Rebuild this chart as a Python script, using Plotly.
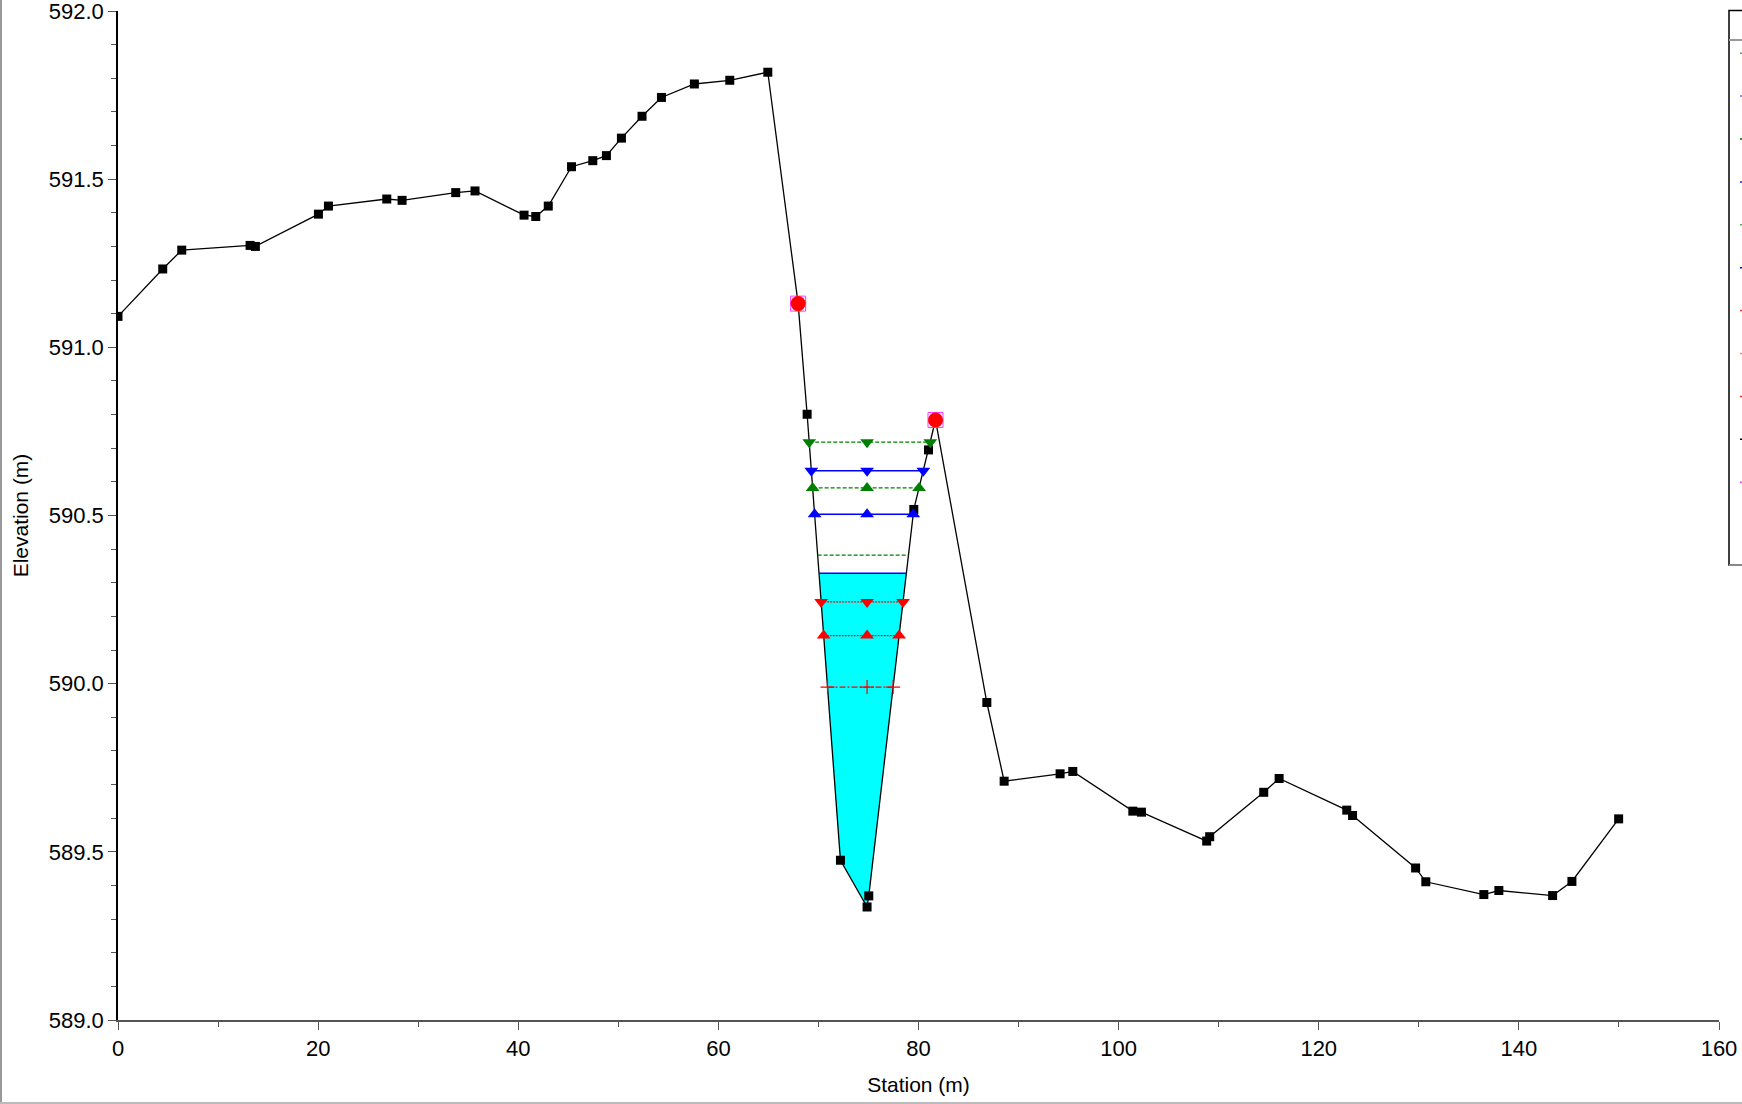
import numpy as np
import plotly.graph_objects as go

# ---------------- data ----------------
station = [0, 4.47, 6.37, 13.2, 13.73, 20.03, 21.03, 26.86, 28.39, 33.75, 35.68,
           40.58, 41.75, 43.0, 45.32, 47.45, 48.81, 50.31, 52.37, 54.31, 57.6,
           61.14, 64.94, 67.97, 68.87, 72.2, 74.86, 75.03, 79.53, 81.0, 81.7,
           86.83, 88.56, 94.15, 95.42, 101.42, 102.28, 108.8, 109.1, 114.5,
           116.04, 122.8, 123.38, 129.68, 130.7, 136.5, 138.0, 143.37, 145.3, 149.97]
elevation = [591.092, 591.233, 591.289, 591.303, 591.300, 591.396, 591.420, 591.441,
             591.437, 591.460, 591.465, 591.393, 591.389, 591.420, 591.537, 591.555,
             591.570, 591.622, 591.687, 591.743, 591.783, 591.794, 591.818, 591.130,
             590.801, 589.475, 589.336, 589.369, 590.518, 590.695, 590.784, 589.944,
             589.710, 589.732, 589.739, 589.621, 589.618, 589.532, 589.545, 589.677,
             589.718, 589.624, 589.608, 589.452, 589.411, 589.373, 589.385, 589.370,
             589.412, 589.598]
bank_stations = [67.97, 81.7]

profile_names = ["EG  PF 3", "WS  PF 3", "EG  PF 2", "WS  PF 2", "EG  PF 1",
                 "WS  PF 1", "Crit  PF 3", "Crit  PF 2", "Crit  PF 1"]
profile_levels = [590.718, 590.633, 590.582, 590.504, 590.382,
                  590.328, 590.243, 590.143, 589.990]
profile_colors = ["#008000", "#0000FF", "#008000", "#0000FF", "#008000",
                  "#0000FF", "#FF0000", "#FF0000", "#FF0000"]
profile_dash = ["4px,2px", "solid", "4px,2px", "solid", "4px,2px",
                "solid", "2px,1px", "2px,1px", "6px,2px,2px,2px"]
profile_symbol = ["triangle-down", "triangle-down", "triangle-up", "triangle-up", None,
                  None, "triangle-down", "triangle-up", "cross-thin"]

x_ticks = [0, 20, 40, 60, 80, 100, 120, 140, 160]
y_ticks = [589.0, 589.5, 590.0, 590.5, 591.0, 591.5, 592.0]

legend_colors = ["#5aa85a", "#6a6aff", "#006400", "#2020ff", "#5aa85a", "#0000ff",
                 "#ff3030", "#ff8080", "#ff2020", "#000000", "#ff40ff"]

# ---------------- helpers ----------------
xs = np.array(station)
ys = np.array(elevation)
i_min = int(np.argmin(ys))


def crossings(z):
    i = i_min
    while ys[i - 1] < z:
        i -= 1
    xl = xs[i - 1] + (z - ys[i - 1]) * (xs[i] - xs[i - 1]) / (ys[i] - ys[i - 1])
    j = i_min
    while ys[j + 1] < z:
        j += 1
    xr = xs[j] + (z - ys[j]) * (xs[j + 1] - xs[j]) / (ys[j + 1] - ys[j])
    return xl, xr, i, j


fig = go.Figure()

# water fill for WS PF 1
z_ws = profile_levels[5]
xl, xr, i, j = crossings(z_ws)
poly_x = [xl] + list(xs[i:j + 1]) + [xr, xl]
poly_y = [z_ws] + list(ys[i:j + 1]) + [z_ws, z_ws]
fig.add_trace(go.Scatter(x=poly_x, y=poly_y, fill="toself", fillcolor="#00FFFF",
                         mode="lines", line=dict(width=0), hoverinfo="skip",
                         showlegend=False))

# ground
fig.add_trace(go.Scatter(x=station, y=elevation, mode="lines+markers", name="Ground",
                         line=dict(color="black", width=1.3),
                         marker=dict(symbol="square", size=9, color="black"),
                         showlegend=False))

# profiles
for name, z, c, d, s in zip(profile_names, profile_levels, profile_colors,
                            profile_dash, profile_symbol):
    a, b, _, _ = crossings(z)
    if s is None:
        px, py, mode, mk = [a, b], [z, z], "lines", None
    else:
        px, py, mode = [a, xs[i_min], b], [z, z, z], "lines+markers"
        if s == "cross-thin":
            mk = dict(symbol=s, size=10, color=c, line=dict(color=c, width=1.2))
        else:
            mk = dict(symbol=s, size=12, color=c)
    fig.add_trace(go.Scatter(x=px, y=py, mode=mode, name=name,
                             line=dict(color=c, width=1.5 if d == "solid" else 1.2, dash=d),
                             marker=mk, showlegend=False))

# bank stations
bank_elev = [float(np.interp(b, xs, ys)) for b in bank_stations]
fig.add_trace(go.Scatter(x=bank_stations, y=bank_elev, mode="markers", name="Bank Sta",
                         marker=dict(symbol="square-open", size=15, color="#FF33FF",
                                     line=dict(width=1)),
                         showlegend=False))
fig.add_trace(go.Scatter(x=bank_stations, y=bank_elev, mode="markers",
                         marker=dict(symbol="circle", size=15, color="#FF0000"),
                         showlegend=False, hoverinfo="skip"))

# ---------------- layout geometry ----------------
W, H = 1742, 1104
L, R, T, B = 118, 23, 11, 84
pw, ph = W - L - R, H - T - B


def pxx(p):
    return (p - L) / pw


def pxy(p):
    return (H - B - p) / ph


shapes = []
# outer frame (left and bottom edges of window)
shapes.append(dict(type="line", xref="paper", yref="paper", x0=pxx(1), x1=pxx(1),
                   y0=pxy(0), y1=pxy(H), line=dict(color="#999999", width=2)))
shapes.append(dict(type="line", xref="paper", yref="paper", x0=pxx(0), x1=pxx(W),
                   y0=pxy(H - 1), y1=pxy(H - 1), line=dict(color="#bbbbbb", width=2)))
# clipped legend box
lx0, ly0, ly1 = 1729, 10.5, 565
shapes.append(dict(type="rect", xref="paper", yref="paper", x0=pxx(lx0), x1=pxx(1760),
                   y0=pxy(ly1), y1=pxy(ly0), line=dict(color="black", width=1.5),
                   fillcolor="rgba(0,0,0,0)"))
shapes.append(dict(type="line", xref="paper", yref="paper", x0=pxx(lx0), x1=pxx(1760),
                   y0=pxy(40), y1=pxy(40), line=dict(color="#999999", width=2)))
shapes.append(dict(type="line", xref="paper", yref="paper", x0=pxx(lx0), x1=pxx(1760),
                   y0=pxy(ly1), y1=pxy(ly1), line=dict(color="#888888", width=2)))
for k, c in enumerate(legend_colors):
    yy = 53.2 + k * 42.9
    shapes.append(dict(type="line", xref="paper", yref="paper", x0=pxx(1740), x1=pxx(1745),
                       y0=pxy(yy), y1=pxy(yy), line=dict(color=c, width=1.5)))

font_family = "Liberation Sans, Arial, sans-serif"

fig.update_layout(
    width=W, height=H,
    margin=dict(l=L, r=R, t=T, b=B, pad=0, autoexpand=False),
    plot_bgcolor="white", paper_bgcolor="white",
    font=dict(family=font_family, size=22, color="black"),
    showlegend=False,
    shapes=shapes,
    xaxis=dict(range=[0, 160], tickvals=x_ticks, ticktext=[str(v) for v in x_ticks],
               ticks="outside", ticklen=8, tickwidth=1, tickcolor="#555555",
               showline=True, linecolor="#555555", linewidth=1.5,
               showgrid=False, zeroline=False, automargin=False,
               ticklabeloverflow="allow",
               minor=dict(dtick=10, ticks="outside", ticklen=5, tickcolor="#555555",
                          showgrid=False),
               title=dict(text="Station (m)", font=dict(size=21), standoff=17),
               tickfont=dict(size=22)),
    yaxis=dict(range=[589.0, 592.0], tickvals=y_ticks,
               ticktext=[f"{v:.1f}" for v in y_ticks],
               ticks="outside", ticklen=8, tickwidth=1, tickcolor="#555555",
               showline=True, linecolor="black", linewidth=1.5,
               showgrid=False, zeroline=False, automargin=False,
               ticklabeloverflow="allow",
               minor=dict(dtick=0.1, ticks="outside", ticklen=5, tickcolor="#555555",
                          showgrid=False),
               title=dict(text="Elevation (m)", font=dict(size=21), standoff=14),
               tickfont=dict(size=22)),
)

fig.write_html("out.html", config={"displayModeBar": False},
               post_script="document.body.style.margin='0px';document.body.style.overflow='hidden';")
